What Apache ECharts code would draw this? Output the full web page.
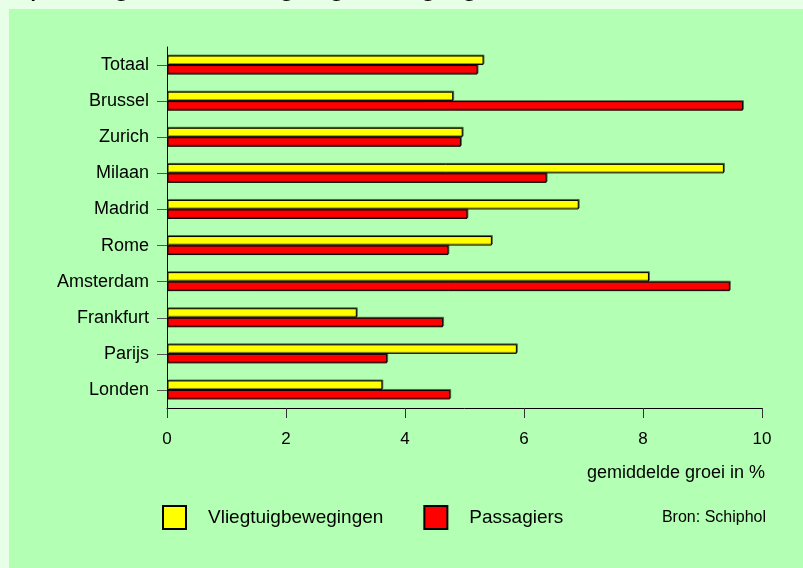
<!DOCTYPE html>
<html>
<head>
<meta charset="utf-8">
<script src="https://cdn.jsdelivr.net/npm/echarts@6/dist/echarts.min.js"></script>
<style>
  html, body { margin: 0; padding: 0; background: #e6ffe6; }
  #chart { width: 803px; height: 568px; }
</style>
</head>
<body>
<div id="chart"></div>
<script>
// steden van onder naar boven (category-as loopt omhoog)
const steden = ['Londen', 'Parijs', 'Frankfurt', 'Amsterdam', 'Rome', 'Madrid', 'Milaan', 'Zurich', 'Brussel', 'Totaal'];
const vliegtuigbewegingen = [3.62, 5.88, 3.19, 8.1, 5.46, 6.92, 9.36, 4.97, 4.81, 5.32];
const passagiers = [4.76, 3.70, 4.64, 9.46, 4.73, 5.05, 6.38, 4.94, 9.68, 5.22];
const xTicks = [0, 2, 4, 6, 8, 10];

const font = 'Liberation Sans, Arial, sans-serif';
const chart = echarts.init(document.getElementById('chart'));

const barStyle = (color) => ({
  color: color,
  borderColor: '#000',
  borderWidth: 1,
  shadowColor: 'rgba(0,0,0,0.45)',
  shadowOffsetX: 1,
  shadowOffsetY: -1,
});

const option = {
  backgroundColor: '#e6ffe6',
  animation: false,
  textStyle: { fontFamily: font },
  graphic: [
    { type: 'rect', z: -10, shape: { x: 9, y: 9, width: 794, height: 559 }, style: { fill: '#b3ffb3' } },
    {
      type: 'text', x: -52, y: -14.5, z: 10,
      style: { text: 'Groei passagiers en vliegtuigbewegingen, 1990-1997', font: 'italic 31px ' + font, fill: '#000', verticalAlign: 'middle' },
    },
    {
      type: 'text', x: 765, y: 473,
      style: { text: 'gemiddelde groei in %', font: '18px ' + font, fill: '#000', align: 'right', verticalAlign: 'middle' },
    },
    {
      type: 'text', x: 766, y: 518,
      style: { text: 'Bron: Schiphol', font: '16px ' + font, fill: '#000', align: 'right', verticalAlign: 'middle' },
    },
  ],
  grid: { left: 167, right: 41, top: 47, bottom: 160 },
  legend: {
    left: 162, top: 505, padding: 0,
    itemWidth: 23, itemHeight: 23, itemGap: 40,
    icon: 'rect',
    textStyle: { fontSize: 19, color: '#000', fontFamily: font, padding: [0, 0, 0, 17] },
    data: ['Vliegtuigbewegingen', 'Passagiers'],
  },
  xAxis: {
    type: 'value', min: 0, max: 10, interval: 2,
    axisLine: { show: true, lineStyle: { color: '#000', width: 1 } },
    axisTick: { show: true, length: 10, lineStyle: { color: '#333' } },
    axisLabel: {
      margin: 23, fontSize: 17, color: '#000',
      formatter: (v) => (xTicks.indexOf(v) >= 0 ? String(v) : ''),
    },
    splitLine: { show: false },
  },
  yAxis: {
    type: 'category', data: steden,
    axisLine: { show: true, lineStyle: { color: '#000', width: 1 } },
    axisTick: { show: true, alignWithLabel: true, length: 10, lineStyle: { color: '#555' } },
    axisLabel: { margin: 18, fontSize: 18, color: '#000' },
  },
  series: [
    {
      name: 'Vliegtuigbewegingen', type: 'bar', data: vliegtuigbewegingen,
      barWidth: 9.5, barGap: '0%', itemStyle: barStyle('#ffff00'),
    },
    {
      name: 'Passagiers', type: 'bar', data: passagiers,
      barWidth: 9.5, barGap: '0%', itemStyle: barStyle('#ff0000'),
    },
  ],
};

chart.setOption(option);
</script>
</body>
</html>
